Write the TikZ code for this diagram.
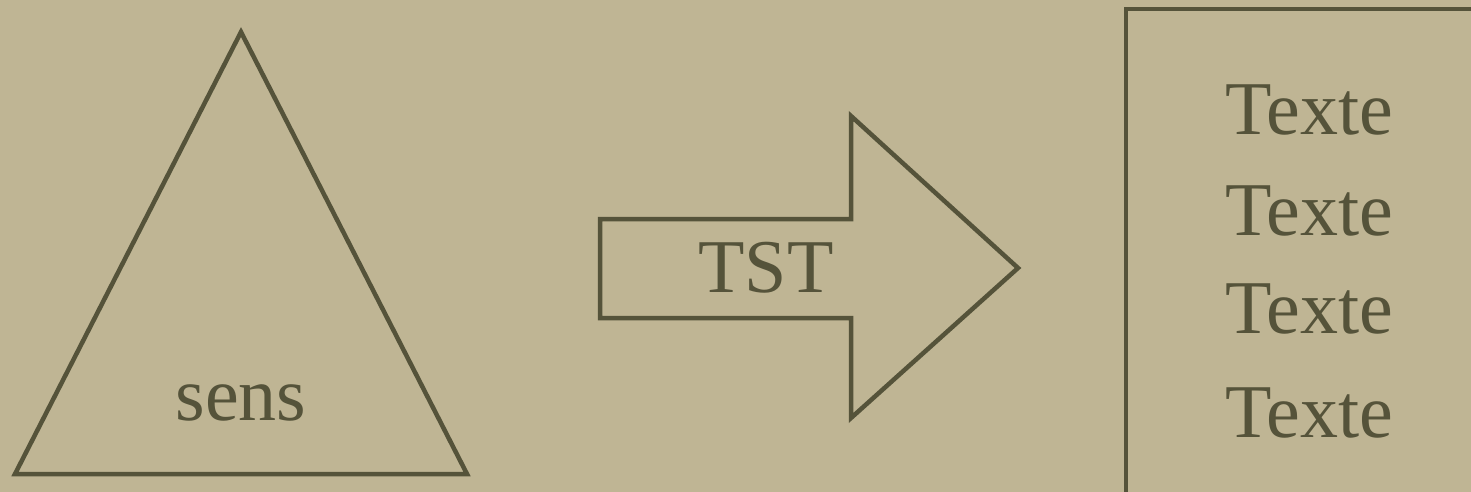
\documentclass[tikz,border=0pt]{standalone}
\usepackage{fontspec}
\setmainfont{Liberation Serif}
\definecolor{bg}{HTML}{BFB594}
\definecolor{ink}{HTML}{55533A}
\tikzset{
  shapeline/.style={draw=ink, line width=4.5pt, line join=miter},
  lbl/.style={text=ink, font=\fontsize{76}{80}\selectfont, inner sep=0pt, anchor=base},
}
\begin{document}
\begin{tikzpicture}[x=1pt,y=-1pt]
\fill[bg] (0,0) rectangle (1471,492);
\useasboundingbox (0,0) rectangle (1471,492);
% triangle
\coordinate (tl) at (15,474);
\coordinate (tr) at (467,474);
\coordinate (ta) at (241,32);
\draw[shapeline] (tl) -- (ta) -- (tr) -- cycle;
\node[lbl] (sens) at (241,420) {sens};
% block arrow
\draw[shapeline] (600,219) -- (851,219) -- (851,116) -- (1018,268) -- (851,418) -- (851,318) -- (600,318) -- cycle;
\node[lbl] (tst) at (766,292) {TST};
% box
\draw[shapeline] (1480,9) -- (1126,9) -- (1126,500);
\node[lbl] (t1) at (1309,135) {Texte};
\node[lbl] (t2) at (1309,235) {Texte};
\node[lbl] (t3) at (1309,333) {Texte};
\node[lbl] (t4) at (1309,437) {Texte};
\end{tikzpicture}
\end{document}
